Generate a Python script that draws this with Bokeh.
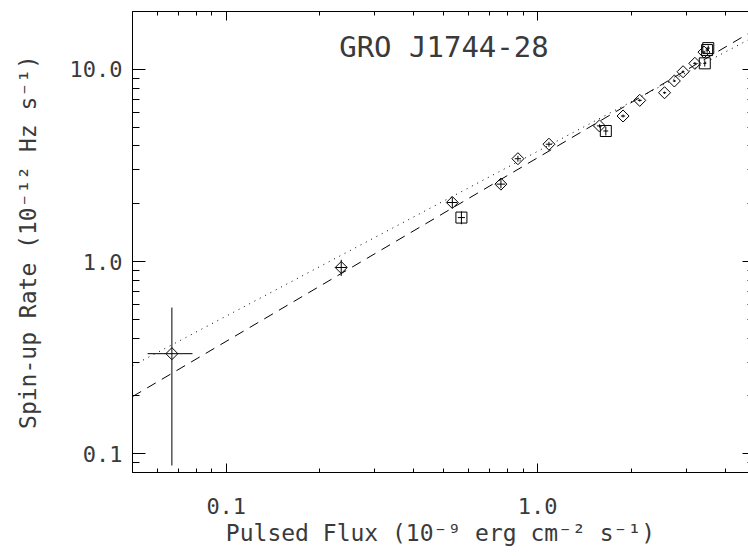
import numpy as np
from bokeh.plotting import figure
from bokeh.models import Range1d, LogAxis, FixedTicker, PrintfTickFormatter, Label
from bokeh.embed import file_html
from bokeh.resources import INLINE

# ---- data ----
diamond_flux = [0.0669, 0.234, 0.532, 0.762, 0.864, 1.087, 1.579, 1.88, 2.127, 2.555, 2.747, 2.93, 3.197, 3.42]
diamond_rate = [0.332, 0.932, 2.03, 2.53, 3.43, 4.08, 5.08, 5.72, 6.90, 7.56, 8.70, 9.72, 10.75, 12.3]
diamond_flux_err = [0.011, 0.010, 0.020, 0.025, 0.020, 0.025, 0.030, 0.030, 0.030, 0.030, 0.030, 0.030, 0.040, 0.040]
diamond_rate_err = [0.245, 0.09, 0.13, 0.12, 0.12, 0.12, 0.10, 0.10, 0.10, 0.10, 0.10, 0.15, 0.15, 0.20]

square_flux = [0.569, 1.655, 3.44, 3.50, 3.53]
square_rate = [1.695, 4.78, 10.75, 12.6, 12.9]
square_flux_err = [0.015, 0.030, 0.040, 0.040, 0.040]
square_rate_err = [0.13, 0.25, 0.40, 0.40, 0.40]

line_flux = [0.05, 4.753]
dotted_rate = [0.2875, 14.26]
dashed_rate = [0.1986, 15.38]

x_major = [0.1, 1.0]
x_minor = [0.05, 0.06, 0.07, 0.08, 0.09, 0.2, 0.3, 0.4, 0.5, 0.6, 0.7, 0.8, 0.9, 2.0, 3.0, 4.0]
y_major = [0.1, 1.0, 10.0]
y_minor = [0.08, 0.09, 0.2, 0.3, 0.4, 0.5, 0.6, 0.7, 0.8, 0.9, 2, 3, 4, 5, 6, 7, 8, 9, 20]

title_text = "GRO J1744-28"
x_label = "Pulsed Flux (10\u207b\u2079 erg cm\u207b\u00b2 s\u207b\u00b9)"
y_label = "Spin-up Rate (10\u207b\u00b9\u00b2 Hz s\u207b\u00b9)"

FONT = "DejaVu Sans Mono"
TXT = "#3a3a3a"

p = figure(width=748, height=556, x_axis_type="log", y_axis_type="log",
           x_range=Range1d(0.05, 4.753), y_range=Range1d(0.08, 20),
           output_backend="svg", toolbar_location=None,
           min_border_left=132, min_border_right=0, min_border_top=11, min_border_bottom=84,
           background_fill_color="white", border_fill_color="white",
           outline_line_color=None)
p.grid.visible = False

def style_x(ax, labels=True):
    ax.ticker = FixedTicker(ticks=x_major, minor_ticks=x_minor)
    ax.major_tick_in = 9
    ax.major_tick_out = 0
    ax.minor_tick_in = 4
    ax.minor_tick_out = 0
    ax.axis_line_color = "black"
    ax.major_tick_line_color = "black"
    ax.minor_tick_line_color = "black"
    if labels:
        ax.formatter = PrintfTickFormatter(format="%.1f")
        ax.major_label_text_font = FONT
        ax.major_label_text_font_size = "22px"
        ax.major_label_text_color = TXT
        ax.major_label_standoff = 25
    else:
        ax.major_label_text_font_size = "1px"
        ax.major_label_text_color = None
        ax.major_label_standoff = 0

def style_y(ax, labels=True):
    ax.ticker = FixedTicker(ticks=y_major, minor_ticks=y_minor)
    ax.major_tick_in = 13
    ax.major_tick_out = 0
    ax.minor_tick_in = 7
    ax.minor_tick_out = 0
    ax.axis_line_color = "black"
    ax.major_tick_line_color = "black"
    ax.minor_tick_line_color = "black"
    if labels:
        ax.formatter = PrintfTickFormatter(format="%.1f")
        ax.major_label_text_font = FONT
        ax.major_label_text_font_size = "22px"
        ax.major_label_text_color = TXT
        ax.major_label_standoff = 10
    else:
        ax.major_label_text_font_size = "1px"
        ax.major_label_text_color = None
        ax.major_label_standoff = 0

bx = p.xaxis[0]
style_x(bx)
bx.axis_label = x_label
bx.axis_label_text_font = FONT
bx.axis_label_text_font_size = "23px"
bx.axis_label_text_font_style = "normal"
bx.axis_label_text_color = TXT
bx.axis_label_standoff = 3

ly = p.yaxis[0]
style_y(ly)
ly.axis_label = y_label
ly.axis_label_text_font = FONT
ly.axis_label_text_font_size = "23px"
ly.axis_label_text_font_style = "normal"
ly.axis_label_text_color = TXT
ly.axis_label_standoff = 26

top = LogAxis()
style_x(top, labels=False)
p.add_layout(top, "above")

right = LogAxis()
style_y(right, labels=False)
right.major_tick_in = 6
right.minor_tick_in = 1
right.axis_line_color = None
p.add_layout(right, "right")

# model lines
p.line(line_flux, dotted_rate, line_color="black", line_width=1, line_dash="1 5")
p.line(line_flux, dashed_rate, line_color="black", line_width=1, line_dash="10 7")

# error bars
def errbars(xs, ys, xe, ye):
    xs = np.array(xs); ys = np.array(ys); xe = np.array(xe); ye = np.array(ye)
    p.segment(x0=xs - xe, y0=ys, x1=xs + xe, y1=ys, line_color="black", line_width=1)
    p.segment(x0=xs, y0=ys - ye, x1=xs, y1=ys + ye, line_color="black", line_width=1)

errbars(diamond_flux, diamond_rate, diamond_flux_err, diamond_rate_err)
errbars(square_flux, square_rate, square_flux_err, square_rate_err)

p.scatter(diamond_flux, diamond_rate, marker="square", angle=np.pi / 4, size=8.5,
          fill_color=None, line_color="black", line_width=1)
p.scatter(square_flux, square_rate, marker="square", size=11,
          fill_color=None, line_color="black", line_width=1)

title = Label(x=0.5, y=13.0, text=title_text, text_align="center", text_baseline="middle",
              text_font=FONT, text_font_size="29px", text_color=TXT)
p.add_layout(title)

open("out.html", "w").write(file_html(p, INLINE))
